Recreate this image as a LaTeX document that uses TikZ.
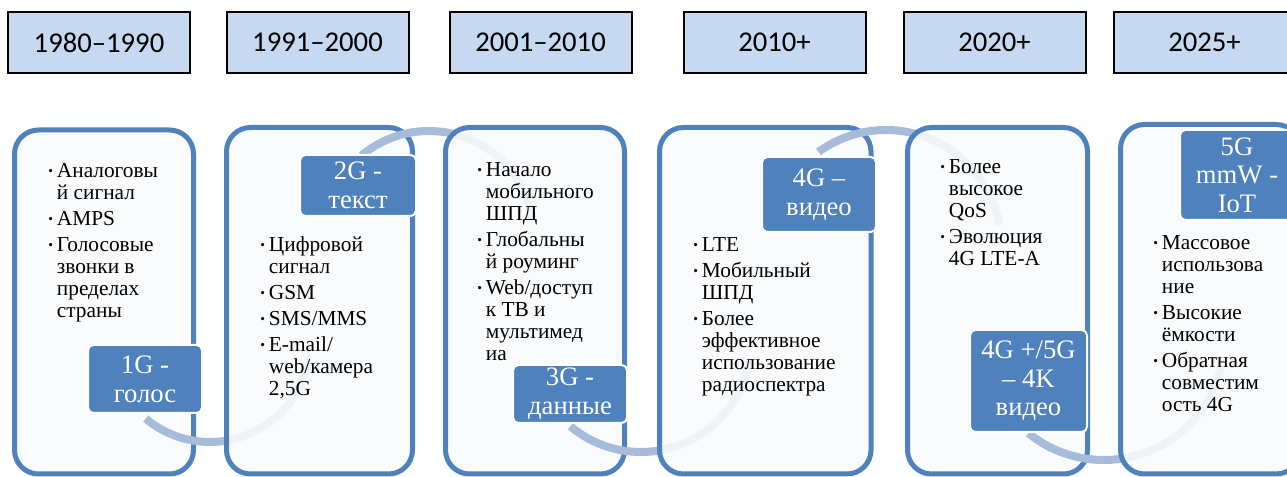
\documentclass[tikz,border=0pt]{standalone}
\usepackage{fontspec}
\setmainfont{Liberation Serif}
\newfontfamily\yearfont{Carlito}
\definecolor{cardblue}{RGB}{79,129,189}
\definecolor{lblue}{RGB}{79,129,189}
\definecolor{ringblue}{RGB}{167,188,218}
\definecolor{yearfill}{RGB}{198,217,241}
\definecolor{cardfill}{RGB}{250,251,253}
\newcommand\bu{\makebox[6.5pt][l]{\raisebox{1.5pt}{\fontsize{10}{10}\selectfont •}}}
\newcommand\ind{\hspace*{6.5pt}}
\begin{document}
\begin{tikzpicture}[x=0.75pt,y=0.75pt,
  yearbox/.style={draw=black, line width=1.5pt, fill=yearfill, minimum width=136.5pt, minimum height=45.75pt, inner sep=0, font=\yearfont\fontsize{21.5}{24}\selectfont},
  card/.style={draw=cardblue, line width=3.75pt, rounded corners=18pt, fill=cardfill, fill opacity=0.88, inner sep=0},
  ring/.style={draw=ringblue, line width=6pt},
  lbl/.style={fill=lblue, draw=white, line width=1.5pt, rounded corners=4pt, text=white, align=center, inner sep=0, font=\fontsize{20}{21.5}\selectfont},
  txt/.style={anchor=base west, inner sep=0, font=\fontsize{16}{16.5}\selectfont, text=black}]
\useasboundingbox (0,0) rectangle (1287,477);
\fill[white] (0,0) rectangle (1287,477);

% year boxes
\node[yearbox] (y1) at (99,434.5) {1980–1990};
\node[yearbox] (y2) at (317.5,434.5) {1991–2000};
\node[yearbox] (y3) at (540.5,434.5) {2001–2010};
\node[yearbox] (y4) at (774.5,434.5) {2010+};
\node[yearbox] (y5) at (994.5,434.5) {2020+};
\node[yearbox] (y6) at (1204.5,434.5) {2025+};

% centres of rings
\coordinate (rA) at (210,135);
\coordinate (rB) at (429,241);
\coordinate (rC) at (641,135);
\coordinate (rD) at (886,232);
\coordinate (rE) at (1104,137);

% cards and rings
\node[card, minimum width=179*0.75pt, minimum height=344*0.75pt] (c1) at (104,175) {};
\draw[ring] ([shift={(230:75pt)}]rA) arc[start angle=230, end angle=350, radius=75pt];
\node[card, minimum width=186*0.75pt, minimum height=346.5*0.75pt] (c2) at (319.5,176.25) {};
\draw[ring] ([shift={(130:78.75pt)}]rB) arc[start angle=130, end angle=10, radius=78.75pt];
\node[card, minimum width=179*0.75pt, minimum height=346.5*0.75pt] (c3) at (535,176.25) {};
\draw[ring] ([shift={(230:82.5pt)}]rC) arc[start angle=230, end angle=350, radius=82.5pt];
\node[card, minimum width=211.5*0.75pt, minimum height=346.5*0.75pt] (c4) at (765.25,176.25) {};
\draw[ring] ([shift={(126:86.25pt)}]rD) arc[start angle=126, end angle=10, radius=86.25pt];
\node[card, minimum width=180*0.75pt, minimum height=346.5*0.75pt] (c5) at (997.5,176.25) {};
\draw[ring] ([shift={(231:90pt)}]rE) arc[start angle=231, end angle=350, radius=90pt];
\node[card, minimum width=179.5*0.75pt, minimum height=349.5*0.75pt] (c6) at (1210.25,177.75) {};

% generation labels
\node[lbl, minimum width=114*0.75pt, minimum height=68*0.75pt] (g1) at (145,98) {1G -\\голос};
\node[lbl, minimum width=116*0.75pt, minimum height=61*0.75pt] (g2) at (358,291.5) {2G -\\текст};
\node[lbl, minimum width=114*0.75pt, minimum height=58*0.75pt] (g3) at (570,83) {3G -\\данные};
\node[lbl, minimum width=114*0.75pt, minimum height=75*0.75pt] (g4) at (819,282.5) {4G –\\видео};
\node[lbl, minimum width=117*0.75pt, minimum height=102*0.75pt] (g5) at (1028.5,96) {4G +/5G\\– 4K\\видео};
\node[lbl, minimum width=114*0.75pt, minimum height=90*0.75pt] (g6) at (1237,302) {5G\\mmW -\\IoT};

% bullet texts
\node[txt] (t1) at (48,299) {\begin{tabular}[t]{@{}l@{}}
\bu Аналоговы\\ \ind й сигнал\\[3pt]
\bu AMPS\\[3pt]
\bu Голосовые\\ \ind звонки в\\ \ind пределах\\ \ind страны
\end{tabular}};
\node[txt] (t2) at (260,225) {\begin{tabular}[t]{@{}l@{}}
\bu Цифровой\\ \ind сигнал\\[3pt]
\bu GSM\\[3pt]
\bu SMS/MMS\\[3pt]
\bu E-mail/\\ \ind web/камера\\ \ind 2,5G
\end{tabular}};
\node[txt] (t3) at (477,300) {\begin{tabular}[t]{@{}l@{}}
\bu Начало\\ \ind мобильного\\ \ind ШПД\\[3pt]
\bu Глобальны\\ \ind й роуминг\\[3pt]
\bu Web/доступ\\ \ind к ТВ и\\ \ind мультимед\\ \ind иа
\end{tabular}};
\node[txt] (t4) at (693,225) {\begin{tabular}[t]{@{}l@{}}
\bu LTE\\[3pt]
\bu Мобильный\\ \ind ШПД\\[3pt]
\bu Более\\ \ind эффективное\\ \ind использование\\ \ind радиоспектра
\end{tabular}};
\node[txt] (t5) at (940,303) {\begin{tabular}[t]{@{}l@{}}
\bu Более\\ \ind высокое\\ \ind QoS\\[3pt]
\bu Эволюция\\ \ind 4G LTE-A
\end{tabular}};
\node[txt] (t6) at (1153,227) {\begin{tabular}[t]{@{}l@{}}
\bu Массовое\\ \ind использова\\ \ind ние\\[3pt]
\bu Высокие\\ \ind ёмкости\\[3pt]
\bu Обратная\\ \ind совместим\\ \ind ость 4G
\end{tabular}};
\end{tikzpicture}
\end{document}
